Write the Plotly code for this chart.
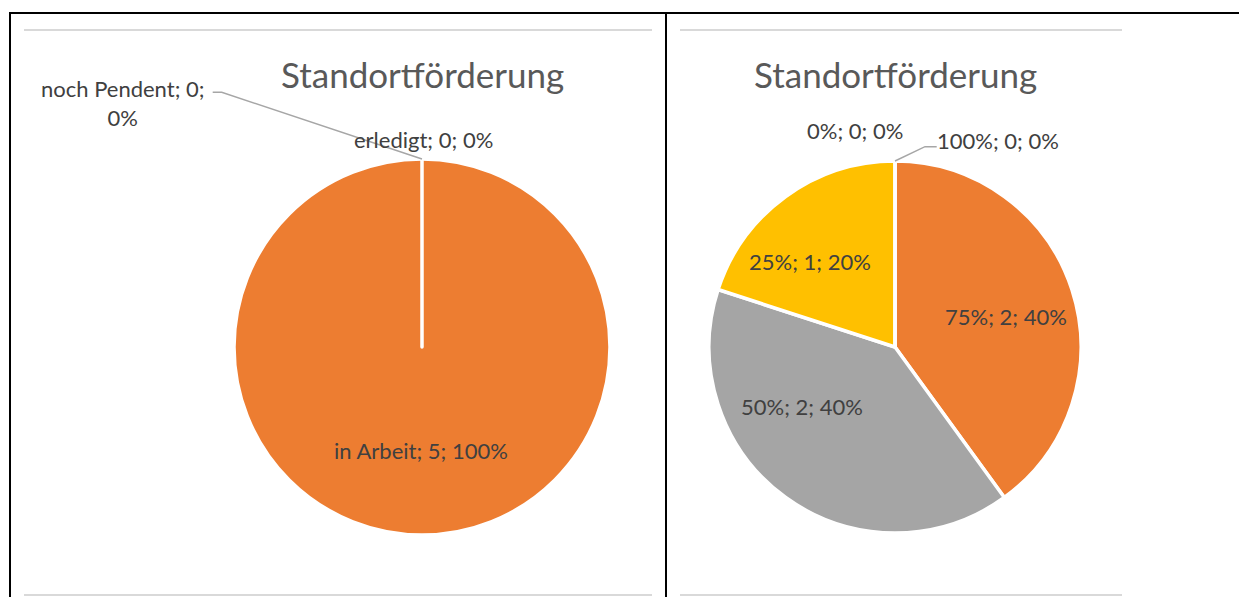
import plotly.graph_objects as go

# ---------------- data ----------------
left_title = "Standortförderung"
left_labels = ["erledigt", "in Arbeit", "noch Pendent"]
left_values = [0, 5, 0]

right_title = "Standortförderung"
right_labels = ["100%", "75%", "50%", "25%", "0%"]
right_values = [0, 2, 2, 1, 0]

# ---------------- styles / layout ----------------
W, H = 1231, 589          # figure size (page has 8px body margin)
OFF = 8
left_colors = ["#4472C4", "#ED7D31", "#A5A5A5"]
right_colors = ["#4472C4", "#ED7D31", "#A5A5A5", "#FFC000", "#5B9BD5"]
FONT = "Lato, Carlito, 'Open Sans', sans-serif"
LABEL_SIZE = 22
TITLE_SIZE = 35
LABEL_COLOR = "#404040"
TITLE_COLOR = "#595959"

# pie geometry in page pixels: center x, center y, radius
left_geo = (422, 347, 188)
right_geo = (895, 347, 186)
title_pos = [(422, 74), (895, 74)]

# label offsets (pixels from pie centre), Excel best-fit placement
left_label_off = [(1, -208), (-1, 103), (-299.5, -243.7)]
right_label_off = [(102.5, -207), (110.7, -30.3), (-93, 59.7), (-85, -85.3), (-40, -216)]
# leader line elbow points (pixel offsets from pie top) per chart
left_leader = [(-200.3, -66.7), (-209.3, -66.7)]
right_leader = [(30, -14.3), (41.7, -14.3)]


def px(x):
    return (x - OFF) / W


def py(y):
    return 1 - (y - OFF) / H


def domain(geo):
    cx, cy, r = geo
    return dict(x=[px(cx - r), px(cx + r)], y=[py(cy + r), py(cy - r)])


def label_texts(labels, values):
    total = sum(values)
    out = []
    for lab, v in zip(labels, values):
        pct = round(100 * v / total)
        out.append(f"{lab}; {v}; {pct}%")
    return out


fig = go.Figure()
for labels, values, colors, geo in [
    (left_labels, left_values, left_colors, left_geo),
    (right_labels, right_values, right_colors, right_geo),
]:
    fig.add_trace(go.Pie(
        labels=labels, values=values, sort=False, direction="clockwise",
        rotation=0, textinfo="none", hoverinfo="label+value+percent",
        marker=dict(colors=colors, line=dict(color="#FFFFFF", width=3.5)),
        domain=domain(geo), showlegend=False,
    ))

annotations = []
shapes = []

# titles
for (tx, ty), t in zip(title_pos, [left_title, right_title]):
    annotations.append(dict(x=px(tx), y=py(ty), xref="paper", yref="paper",
                            text=t, showarrow=False, xanchor="center", yanchor="middle",
                            font=dict(family=FONT, size=TITLE_SIZE, color=TITLE_COLOR)))

# data labels
lt = label_texts(left_labels, left_values)
lt[2] = lt[2].replace("0; 0%", "0;<br>0%")
for text, (dx, dy) in zip(lt, left_label_off):
    cx, cy, r = left_geo
    annotations.append(dict(x=px(cx + dx), y=py(cy + dy), xref="paper", yref="paper",
                            text=text, showarrow=False, xanchor="center", yanchor="middle",
                            font=dict(family=FONT, size=LABEL_SIZE, color=LABEL_COLOR)))
rt = label_texts(right_labels, right_values)
for text, (dx, dy) in zip(rt, right_label_off):
    cx, cy, r = right_geo
    annotations.append(dict(x=px(cx + dx), y=py(cy + dy), xref="paper", yref="paper",
                            text=text, showarrow=False, xanchor="center", yanchor="middle",
                            font=dict(family=FONT, size=LABEL_SIZE, color=LABEL_COLOR)))

# leader lines
for geo, pts in [(left_geo, left_leader), (right_geo, right_leader)]:
    cx, cy, r = geo
    tx, ty = cx, cy - r
    path = f"M {px(tx)} {py(ty)}"
    for dx, dy in pts:
        path += f" L {px(tx + dx)} {py(ty + dy)}"
    shapes.append(dict(type="path", xref="paper", yref="paper", path=path,
                       line=dict(color="#A6A6A6", width=1.4)))

# chart area border lines (light gray, top & bottom)
for x0, x1 in [(24, 652), (680, 1122)]:
    for yy in (30, 595):
        shapes.append(dict(type="line", xref="paper", yref="paper",
                           x0=px(x0), x1=px(x1), y0=py(yy), y1=py(yy),
                           line=dict(color="#D9D9D9", width=2)))

# table cell borders (black)
shapes.append(dict(type="line", xref="paper", yref="paper", x0=px(9), x1=px(1247),
                   y0=py(13), y1=py(13), line=dict(color="#000000", width=2)))
for xx in (10, 666):
    shapes.append(dict(type="line", xref="paper", yref="paper", x0=px(xx), x1=px(xx),
                       y0=py(13), y1=py(605), line=dict(color="#000000", width=2)))

fig.update_layout(
    width=W, height=H, autosize=False,
    margin=dict(l=0, r=0, t=0, b=0),
    paper_bgcolor="#FFFFFF", plot_bgcolor="#FFFFFF",
    annotations=annotations, shapes=shapes,
    font=dict(family=FONT),
)

fig.write_html("out.html")
